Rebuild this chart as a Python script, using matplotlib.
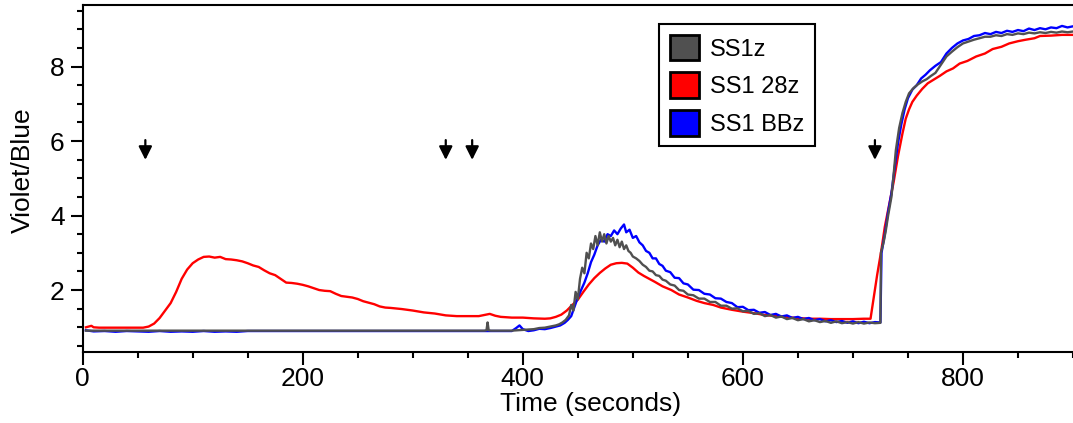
import matplotlib.pyplot as plt
from matplotlib.patches import Patch
from matplotlib.ticker import MultipleLocator

# SS1 28z (red)
t_red = [3, 8, 10, 15, 30, 45, 55, 60, 65, 70, 75, 80, 85, 90, 95, 100, 105, 110, 115, 120,
         125, 130, 135, 140, 145, 150, 155, 160, 165, 170, 175, 180, 185, 190, 195, 200, 205,
         210, 215, 220, 225, 230, 235, 240, 245, 250, 255, 260, 265, 270, 275, 280, 290, 300,
         310, 320, 330, 340, 350, 360, 365, 370, 375, 380, 390, 400, 410, 420, 425, 430, 435,
         440, 445, 450, 455, 460, 465, 470, 475, 480, 485, 490, 495, 500, 505, 510, 515, 520,
         527, 535, 542, 550, 558, 565, 573, 580, 590, 600, 610, 620, 630, 640, 650, 660, 670,
         680, 690, 700, 710, 716, 722, 726, 729, 733, 737, 741, 745, 748, 751, 754, 758, 763,
         768, 773, 779, 785, 791, 797, 804, 812, 820, 827, 835, 842, 850, 857, 865, 870, 880,
         890, 900]
v_red = [1.0, 1.04, 1.0, 0.99, 0.99, 0.99, 0.99, 1.02, 1.1, 1.25, 1.45, 1.65, 1.95, 2.3, 2.55,
         2.72, 2.82, 2.89, 2.9, 2.87, 2.89, 2.83, 2.82, 2.8, 2.77, 2.72, 2.66, 2.62, 2.53, 2.45,
         2.4, 2.3, 2.2, 2.19, 2.17, 2.14, 2.1, 2.05, 2.0, 1.98, 1.97, 1.9, 1.84, 1.82, 1.8, 1.76,
         1.7, 1.66, 1.62, 1.56, 1.53, 1.52, 1.49, 1.45, 1.4, 1.37, 1.32, 1.3, 1.3, 1.3, 1.33,
         1.36, 1.31, 1.28, 1.26, 1.26, 1.24, 1.23, 1.24, 1.28, 1.34, 1.45, 1.6, 1.74, 1.95, 2.15,
         2.32, 2.46, 2.58, 2.68, 2.72, 2.73, 2.71, 2.6, 2.47, 2.38, 2.3, 2.22, 2.1, 2.0, 1.88,
         1.8, 1.71, 1.65, 1.6, 1.53, 1.47, 1.42, 1.38, 1.33, 1.3, 1.27, 1.25, 1.23, 1.23, 1.22,
         1.22, 1.22, 1.23, 1.23, 2.4, 3.1, 3.7, 4.3, 4.9, 5.6, 6.2, 6.6, 6.85, 7.05, 7.22, 7.4,
         7.55, 7.64, 7.75, 7.87, 7.95, 8.08, 8.15, 8.27, 8.35, 8.47, 8.53, 8.62, 8.68, 8.72,
         8.76, 8.82, 8.83, 8.85, 8.85]

# SS1 BBz (blue)
t_blue = [3, 10, 20, 30, 40, 50, 60, 70, 80, 90, 100, 110, 120, 130, 140, 150, 175, 200, 230,
          260, 300, 350, 390, 394, 397, 400, 405, 410, 415, 420, 425, 430, 434, 438, 441, 444,
          447, 450, 453, 456, 459, 462, 465, 468, 471, 474, 477, 480, 483, 486, 489, 492, 494,
          497, 500, 503, 506, 509, 512, 515, 518, 521, 524, 527, 530, 534, 538, 542, 546, 550,
          555, 560, 565, 570, 575, 580, 585, 590, 595, 600, 605, 610, 615, 620, 625, 630, 635,
          640, 645, 650, 655, 660, 665, 670, 675, 680, 685, 690, 695, 700, 705, 710, 715, 720,
          725, 726, 729, 732, 735, 738, 741, 744, 747, 750, 754, 758, 762, 766, 770, 775, 780,
          785, 790, 795, 800, 805, 810, 815, 820, 825, 830, 835, 840, 845, 850, 855, 860, 865,
          870, 875, 880, 885, 890, 895, 900]
v_blue = [0.92, 0.89, 0.9, 0.88, 0.9, 0.89, 0.88, 0.9, 0.88, 0.89, 0.88, 0.9, 0.88, 0.89, 0.88,
          0.9, 0.9, 0.9, 0.9, 0.9, 0.9, 0.9, 0.9, 0.98, 1.05, 0.95, 0.9, 0.92, 0.96, 0.95, 0.98,
          1.02, 1.05, 1.12, 1.2, 1.3, 1.55, 1.8, 2.0, 2.2, 2.45, 2.75, 2.95, 3.2, 3.35, 3.3, 3.5,
          3.45, 3.6, 3.5, 3.65, 3.76, 3.55, 3.62, 3.4, 3.45, 3.28, 3.2, 3.05, 3.0, 2.85, 2.85,
          2.7, 2.65, 2.52, 2.48, 2.33, 2.32, 2.18, 2.15, 2.01, 2.0, 1.9, 1.88, 1.78, 1.77, 1.68,
          1.65, 1.54, 1.55, 1.46, 1.47, 1.39, 1.41, 1.33, 1.36, 1.29, 1.32, 1.25, 1.28, 1.22,
          1.25, 1.19, 1.22, 1.16, 1.19, 1.14, 1.17, 1.12, 1.16, 1.11, 1.15, 1.11, 1.14, 1.13,
          3.0, 3.5, 4.1, 4.6, 5.3, 5.95, 6.45, 6.85, 7.15, 7.38, 7.5, 7.68, 7.78, 7.9, 8.02,
          8.12, 8.35, 8.5, 8.62, 8.7, 8.74, 8.82, 8.84, 8.9, 8.87, 8.93, 8.9, 8.96, 8.93, 8.98,
          8.95, 9.02, 8.98, 9.03, 9.0, 9.05, 9.03, 9.09, 9.05, 9.08]

# SS1z (grey)
t_grey = [3, 20, 50, 100, 150, 200, 250, 300, 350, 365, 367, 368, 369, 371, 390, 400, 410, 415,
          420, 425, 430, 433, 436, 439, 442, 444, 446, 448, 450, 452, 454, 456, 458, 460, 462,
          464, 466, 468, 470, 472, 474, 476, 478, 480, 482, 484, 486, 488, 490, 492, 494, 496,
          498, 500, 503, 506, 509, 512, 515, 518, 521, 524, 527, 530, 534, 538, 542, 546, 550,
          555, 560, 565, 570, 575, 580, 585, 590, 595, 600, 605, 610, 615, 620, 625, 630, 635,
          640, 645, 650, 655, 660, 665, 670, 675, 680, 685, 690, 695, 700, 705, 710, 715, 720,
          725, 725.5, 728, 730, 732, 735, 737, 739, 742, 745, 748, 751, 755, 759, 763, 767, 771,
          775, 780, 785, 790, 795, 800, 805, 810, 815, 820, 825, 830, 835, 840, 845, 850, 855,
          860, 865, 870, 875, 880, 885, 890, 895, 900]
v_grey = [0.91, 0.91, 0.91, 0.91, 0.91, 0.91, 0.91, 0.91, 0.91, 0.91, 0.92, 1.13, 0.92, 0.91,
          0.91, 0.93, 0.95, 0.98, 0.99, 1.02, 1.05, 1.08, 1.13, 1.2, 1.32, 1.6, 1.45, 1.95, 1.75,
          2.3, 2.6, 2.45, 3.0, 2.85, 3.25, 3.1, 3.45, 3.2, 3.55, 3.3, 3.5, 3.25, 3.45, 3.3, 3.4,
          3.2, 3.35, 3.15, 3.3, 3.1, 3.2, 3.05, 3.0, 2.9, 2.85, 2.78, 2.68, 2.62, 2.52, 2.5, 2.4,
          2.38, 2.28, 2.25, 2.15, 2.12, 2.0, 1.98, 1.88, 1.86, 1.77, 1.77, 1.68, 1.68, 1.58,
          1.58, 1.5, 1.51, 1.43, 1.44, 1.36, 1.38, 1.3, 1.33, 1.26, 1.29, 1.22, 1.25, 1.19,
          1.22, 1.16, 1.19, 1.14, 1.17, 1.12, 1.16, 1.11, 1.14, 1.1, 1.14, 1.1, 1.13, 1.11,
          1.12, 3.0, 3.3, 3.62, 4.0, 4.5, 5.1, 5.75, 6.35, 6.75, 7.05, 7.28, 7.42, 7.52, 7.6,
          7.66, 7.75, 7.83, 8.05, 8.27, 8.4, 8.52, 8.62, 8.67, 8.72, 8.76, 8.8, 8.8, 8.84, 8.82,
          8.87, 8.85, 8.89, 8.87, 8.91, 8.89, 8.92, 8.9, 8.93, 8.91, 8.94, 8.92, 8.94]

arrow_times = [57, 330, 354, 720]

labels = ['SS1z', 'SS1 28z', 'SS1 BBz']
colors = ['#505050', '#ff0000', '#0000ff']

plt.rcParams['font.family'] = ['Liberation Sans', 'DejaVu Sans']

fig = plt.figure(figsize=(10.73, 4.23), dpi=100)
ax = fig.add_axes([0.077, 0.169, 0.923, 0.819])

ax.plot(t_red, v_red, color=colors[1], lw=1.7)
ax.plot(t_blue, v_blue, color=colors[2], lw=1.7)
ax.plot(t_grey, v_grey, color=colors[0], lw=1.7)

for t in arrow_times:
    ax.annotate('', xy=(t, 5.42), xytext=(t, 6.1),
                arrowprops=dict(arrowstyle='-|>', color='black', lw=1.6, mutation_scale=20))

ax.set_xlim(0, 900)
ax.set_ylim(0.35, 9.65)
ax.xaxis.set_major_locator(MultipleLocator(200))
ax.xaxis.set_minor_locator(MultipleLocator(50))
ax.yaxis.set_major_locator(MultipleLocator(2))
ax.yaxis.set_minor_locator(MultipleLocator(0.5))
ax.tick_params(which='major', length=9, width=1.5, labelsize=19)
ax.tick_params(axis='x', which='major', pad=2)
ax.tick_params(axis='y', which='major', pad=4)
ax.tick_params(which='minor', length=4, width=1.5)
for s in ['left', 'bottom', 'top']:
    ax.spines[s].set_linewidth(1.5)
ax.spines['right'].set_visible(False)

ax.set_xlabel('Time (seconds)', fontsize=19, x=0.513, labelpad=1)
ax.set_ylabel('Violet/Blue', fontsize=19, y=0.524, labelpad=11)

handles = [Patch(facecolor=c, edgecolor='black', lw=2) for c in colors]
leg = ax.legend(handles, labels, loc='upper left', bbox_to_anchor=(0.582, 0.945),
                borderaxespad=0, fontsize=17, handlelength=1.25, handleheight=1.3,
                handletextpad=0.45, labelspacing=0.5, fancybox=False, framealpha=1,
                edgecolor='black', borderpad=0.45)
leg.get_frame().set_linewidth(1.5)

fig.savefig('out.png', dpi=100)
